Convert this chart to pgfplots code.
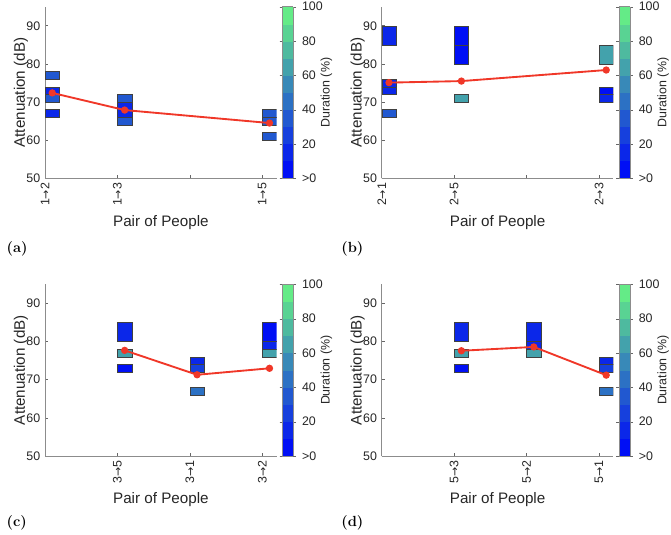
\documentclass[border=0pt]{standalone}
\usepackage{fontspec}
\usepackage{pgfplots}
\pgfplotsset{compat=1.18}
\newfontfamily\hv{Liberation Sans}
\newfontfamily\dv{DejaVu Sans}
\newcommand{\ar}{{\dv\fontsize{8.2}{10}\selectfont →}}
\newcommand{\tickfont}{\hv\fontsize{9.3}{10}\selectfont}
\newcommand{\labfont}{\hv\fontsize{11.4}{12}\selectfont}
\definecolor{k0}{RGB}{0,15,245}
\definecolor{k1}{RGB}{11,39,233}
\definecolor{k2}{RGB}{22,64,221}
\definecolor{k3}{RGB}{33,88,208}
\definecolor{k4}{RGB}{44,113,196}
\definecolor{k5}{RGB}{56,137,184}
\definecolor{k6}{RGB}{67,162,172}
\definecolor{k7}{RGB}{78,186,159}
\definecolor{k8}{RGB}{89,211,147}
\definecolor{k9}{RGB}{100,235,135}
\definecolor{redline}{RGB}{240,55,40}
\definecolor{axgray}{RGB}{38,38,38}
\newcommand{\cell}[5]{\addplot[fill=#5, draw=black!75, line width=0.35pt, mark=none, forget plot] coordinates {(#1,#3) (#2,#3) (#2,#4) (#1,#4)} --cycle;}
\pgfplotsset{
  colormap={dur}{rgb255(0cm)=(0,15,245); rgb255(1cm)=(11,39,233); rgb255(2cm)=(22,64,221); rgb255(3cm)=(33,88,208); rgb255(4cm)=(44,113,196); rgb255(5cm)=(56,137,184); rgb255(6cm)=(67,162,172); rgb255(7cm)=(78,186,159); rgb255(8cm)=(89,211,147); rgb255(9cm)=(100,235,135); rgb255(10cm)=(100,235,135)},
  panel/.style={
    scale only axis, width=173.8pt, height=128.7pt,
    anchor=south west,
    xmin=1, xmax=4.2, ymin=50, ymax=95,
    axis x line*=bottom, axis y line*=left,
    axis line style={-, draw=black!45, line width=0.5pt},
    tick align=inside, major tick length=2.5pt,
    tick style={black!60, line width=0.5pt},
    ytick={50,60,70,80,90},
    /pgf/number format/assume math mode=true,
    tick label style={font=\tickfont, text=axgray},
    xticklabel style={rotate=90, anchor=east},
    xlabel={Pair of People}, ylabel={Attenuation (dB)},
    label style={font=\labfont, text=axgray},
    ylabel shift=-8pt,
    colormap name=dur, colormap access=piecewise constant,
    point meta min=0, point meta max=100,
    colorbar,
    colorbar style={
      axis lines=box, ylabel shift=0pt,
      at={(parent axis.north east)}, anchor=north west, xshift=-4.3pt,
      scale only axis, width=8.25pt, height=128.7pt,
      ytick={0,20,40,60,80,100}, yticklabels={>0,20,40,60,80,100},
      yticklabel pos=right,
      yticklabel style={font=\tickfont, text=axgray, xshift=1pt},
      ylabel={Duration (\%)},
      every axis y label/.style={at={(rel axis cs:3.45,0.5)}, rotate=90, anchor=north, inner sep=0pt, font=\tickfont, text=axgray},
      axis line style={draw=black!45},
      tick style={black!60}, major tick length=2pt, tick align=outside,
    },
  },
}
\begin{document}
\begin{tikzpicture}
\useasboundingbox (0,0) rectangle (503.25pt,401.25pt);
% (a)
\begin{axis}[panel, at={(33.75pt,267.5pt)}, xtick={1,2,3,4}, xticklabels={1\ar2,1\ar3,,1\ar5}]
\cell{1}{1.2}{76}{78}{k3}
\cell{1}{1.2}{72}{74}{k1}
\cell{1}{1.2}{70}{72}{k3}
\cell{1}{1.2}{66}{68}{k1}
\cell{2}{2.2}{70}{72}{k3}
\cell{2}{2.2}{66}{70}{k1}
\cell{2}{2.2}{64}{66}{k3}
\cell{4}{4.2}{66}{68}{k3}
\cell{4}{4.2}{64}{66}{k3}
\cell{4}{4.2}{60}{62}{k3}
\addplot[redline, line width=1.4pt, mark=*, mark size=2pt] coordinates {(1.1,72.4) (2.1,67.9) (4.1,64.5)};
\end{axis}
% (b)
\begin{axis}[panel, at={(286.3pt,267.5pt)}, xtick={1,2,3,4}, xticklabels={2\ar1,2\ar5,,2\ar3}]
\cell{1}{1.2}{85}{90}{k1}
\cell{1}{1.2}{74}{76}{k1}
\cell{1}{1.2}{72}{74}{k1}
\cell{1}{1.2}{66}{68}{k3}
\cell{2}{2.2}{85}{90}{k0}
\cell{2}{2.2}{80}{85}{k0}
\cell{2}{2.2}{70}{72}{k6}
\cell{4}{4.2}{80}{85}{k6}
\cell{4}{4.2}{72}{74}{k0}
\cell{4}{4.2}{70}{72}{k1}
\addplot[redline, line width=1.4pt, mark=*, mark size=2pt] coordinates {(1.1,75.1) (2.1,75.5) (4.1,78.4)};
\end{axis}
% (c)
\begin{axis}[panel, at={(33.75pt,59.25pt)}, xtick={2,3,4}, xticklabels={3\ar5,3\ar1,3\ar2}]
\cell{2}{2.2}{80}{85}{k1}
\cell{2}{2.2}{76}{78}{k6}
\cell{2}{2.2}{72}{74}{k0}
\cell{3}{3.2}{74}{76}{k1}
\cell{3}{3.2}{72}{74}{k2}
\cell{3}{3.2}{66}{68}{k4}
\cell{4}{4.2}{80}{85}{k0}
\cell{4}{4.2}{78}{80}{k1}
\cell{4}{4.2}{76}{78}{k6}
\addplot[redline, line width=1.4pt, mark=*, mark size=2pt] coordinates {(2.1,77.7) (3.1,71.3) (4.1,73.0)};
\end{axis}
% (d)
\begin{axis}[panel, at={(286.3pt,59.25pt)}, xtick={2,3,4}, xticklabels={5\ar3,5\ar2,5\ar1}]
\cell{2}{2.2}{80}{85}{k1}
\cell{2}{2.2}{76}{78}{k6}
\cell{2}{2.2}{72}{74}{k0}
\cell{3}{3.2}{80}{85}{k1}
\cell{3}{3.2}{78}{80}{k1}
\cell{3}{3.2}{76}{78}{k6}
\cell{4}{4.2}{74}{76}{k1}
\cell{4}{4.2}{72}{74}{k2}
\cell{4}{4.2}{66}{68}{k4}
\addplot[redline, line width=1.4pt, mark=*, mark size=2pt] coordinates {(2.1,77.6) (3.1,78.6) (4.1,71.2)};
\end{axis}
\node[anchor=west, font=\bfseries\fontsize{11}{13}\selectfont] at (1.5pt,214.5pt) {(a)};
\node[anchor=west, font=\bfseries\fontsize{11}{13}\selectfont] at (252.5pt,214.5pt) {(b)};
\node[anchor=west, font=\bfseries\fontsize{11}{13}\selectfont] at (1.5pt,9pt) {(c)};
\node[anchor=west, font=\bfseries\fontsize{11}{13}\selectfont] at (252.5pt,9pt) {(d)};
\end{tikzpicture}
\end{document}
